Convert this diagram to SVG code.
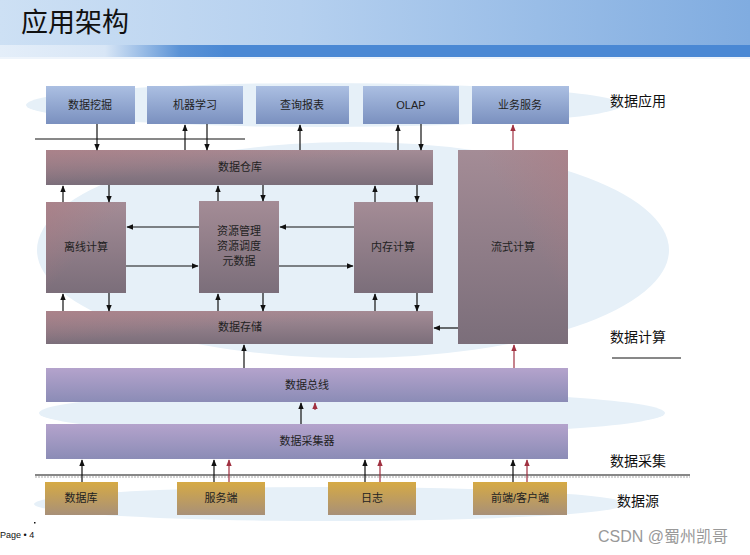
<svg xmlns="http://www.w3.org/2000/svg" width="750" height="555" viewBox="0 0 750 555">
<defs>
<linearGradient id="hdr" x1="0" y1="0" x2="1" y2="0">
<stop offset="0" stop-color="#cde0f4"/><stop offset="0.4" stop-color="#b5d0ef"/><stop offset="1" stop-color="#80ace0"/>
</linearGradient>
<linearGradient id="bar" x1="0" y1="0" x2="1" y2="0">
<stop offset="0" stop-color="#e4eef9"/><stop offset="0.14" stop-color="#d8e6f6"/><stop offset="0.24" stop-color="#5a92d6"/><stop offset="0.3" stop-color="#4a88d4"/><stop offset="1" stop-color="#4a88d4"/>
</linearGradient>
<linearGradient id="blue" x1="0" y1="0" x2="0" y2="1">
<stop offset="0" stop-color="#abbfe2"/><stop offset="1" stop-color="#7a90bf"/>
</linearGradient>
<linearGradient id="mauve" x1="0" y1="0" x2="0" y2="1">
<stop offset="0" stop-color="#a48c96"/><stop offset="1" stop-color="#7b6e7a"/>
</linearGradient>
<linearGradient id="red" x1="0" y1="0" x2="1" y2="1">
<stop offset="0" stop-color="#b07a80" stop-opacity="0.55"/><stop offset="0.5" stop-color="#b07a80" stop-opacity="0"/>
</linearGradient>
<linearGradient id="redr" x1="1" y1="0" x2="0" y2="1">
<stop offset="0" stop-color="#b07a80" stop-opacity="0.5"/><stop offset="0.4" stop-color="#b07a80" stop-opacity="0"/>
</linearGradient>
<linearGradient id="purple" x1="0" y1="0" x2="0" y2="1">
<stop offset="0" stop-color="#b4a3cc"/><stop offset="1" stop-color="#8b8cb6"/>
</linearGradient>
<linearGradient id="gold" x1="0" y1="0" x2="0" y2="1">
<stop offset="0" stop-color="#d6aa44"/><stop offset="1" stop-color="#a89078"/>
</linearGradient>
<marker id="ah" viewBox="0 0 10 10" refX="9" refY="5" markerWidth="7" markerHeight="7" orient="auto" markerUnits="userSpaceOnUse">
<path d="M0,1 L10,5 L0,9 Z" fill="#111"/>
</marker>
<marker id="ahr" viewBox="0 0 10 10" refX="9" refY="5" markerWidth="7" markerHeight="7" orient="auto" markerUnits="userSpaceOnUse">
<path d="M0,1 L10,5 L0,9 Z" fill="#a03040"/>
</marker>
<style>
.t{font-family:"Liberation Sans","Noto Sans CJK SC",sans-serif;font-size:11px;fill:#222;text-anchor:middle}
.lbl{font-family:"Liberation Sans","Noto Sans CJK SC",sans-serif;font-size:14px;fill:#111}
.k{stroke:#111;stroke-width:1.2;fill:none;marker-end:url(#ah)}
.r{stroke:#a03040;stroke-width:1.2;fill:none;marker-end:url(#ahr)}
.ell{fill:#e6f0f8}
</style>
</defs>
<rect width="750" height="555" fill="#fff"/>
<rect x="0" y="0" width="750" height="45" fill="url(#hdr)"/>
<rect x="0" y="45" width="750" height="12" fill="url(#bar)"/>
<rect x="0" y="57" width="750" height="2" fill="#eef4fb"/>
<text x="21" y="32" style="font-family:'Liberation Sans','Noto Sans CJK SC',sans-serif;font-size:27px;fill:#111">应用架构</text>

<g id="backdrop">
<ellipse class="ell" cx="324" cy="105" rx="298" ry="22"/>
<ellipse class="ell" cx="353" cy="250" rx="316" ry="108"/>
<ellipse class="ell" cx="352" cy="413" rx="313" ry="22"/>
<ellipse class="ell" cx="330" cy="504" rx="296" ry="17"/>
</g>

<g id="n-wajue"><rect x="46" y="86" width="89" height="38" fill="url(#blue)"/><text class="t" x="90" y="109">数据挖掘</text></g>
<g id="n-jiqi"><rect x="147" y="86" width="96" height="38" fill="url(#blue)"/><text class="t" x="195" y="109">机器学习</text></g>
<g id="n-chaxun"><rect x="256" y="86" width="93" height="38" fill="url(#blue)"/><text class="t" x="302" y="109">查询报表</text></g>
<g id="n-olap"><rect x="363" y="86" width="96" height="38" fill="url(#blue)"/><text class="t" x="411" y="109">OLAP</text></g>
<g id="n-yewu"><rect x="472" y="86" width="97" height="38" fill="url(#blue)"/><text class="t" x="520" y="109">业务服务</text></g>

<g id="n-cangku"><rect x="46" y="150" width="387" height="35" fill="url(#mauve)"/><rect x="46" y="150" width="387" height="35" fill="url(#red)"/><text class="t" x="240" y="171">数据仓库</text></g>
<g id="n-liushi"><rect x="458" y="150" width="110" height="194" fill="url(#mauve)"/><rect x="458" y="150" width="110" height="194" fill="url(#redr)"/><text class="t" x="513" y="251">流式计算</text></g>
<g id="n-lixian"><rect x="46" y="202" width="80" height="91" fill="url(#mauve)"/><rect x="46" y="202" width="80" height="91" fill="url(#red)"/><text class="t" x="86" y="251">离线计算</text></g>
<g id="n-ziyuan"><rect x="199" y="201" width="80" height="92" fill="url(#mauve)"/><text class="t" x="239" y="235">资源管理</text><text class="t" x="239" y="250">资源调度</text><text class="t" x="239" y="265">元数据</text></g>
<g id="n-neicun"><rect x="354" y="202" width="79" height="91" fill="url(#mauve)"/><text class="t" x="393" y="251">内存计算</text></g>
<g id="n-cunchu"><rect x="46" y="311" width="387" height="33" fill="url(#mauve)"/><rect x="46" y="311" width="387" height="33" fill="url(#red)"/><text class="t" x="240" y="331">数据存储</text></g>
<g id="n-zongxian"><rect x="46" y="368" width="522" height="34" fill="url(#purple)"/><text class="t" x="307" y="389">数据总线</text></g>
<g id="n-caiji"><rect x="46" y="424" width="522" height="35" fill="url(#purple)"/><text class="t" x="307" y="445">数据采集器</text></g>
<g id="n-db"><rect x="45" y="482" width="73" height="33" fill="url(#gold)"/><text class="t" x="81" y="502">数据库</text></g>
<g id="n-server"><rect x="177" y="482" width="88" height="33" fill="url(#gold)"/><text class="t" x="221" y="502">服务端</text></g>
<g id="n-log"><rect x="328" y="482" width="88" height="33" fill="url(#gold)"/><text class="t" x="372" y="502">日志</text></g>
<g id="n-client"><rect x="473" y="482" width="94" height="33" fill="url(#gold)"/><text class="t" x="520" y="502">前端/客户端</text></g>

<g id="labels">
<text class="lbl" x="610" y="106">数据应用</text>
<text class="lbl" x="610" y="342">数据计算</text>
<line x1="612" y1="358" x2="681" y2="358" stroke="#111" stroke-width="1"/>
<text class="lbl" x="610" y="466">数据采集</text>
<text class="lbl" x="617" y="506">数据源</text>
<text x="0" y="538" style="font-family:'Liberation Sans',sans-serif;font-size:9px;fill:#111">Page • 4</text>
<rect x="34" y="522" width="1.5" height="1.5" fill="#111"/>
<text x="598" y="542" style="font-family:'Liberation Sans','Noto Sans CJK SC',sans-serif;font-size:16px;fill:#999">CSDN @蜀州凯哥</text>
</g>

<g id="connectors">
<line x1="35" y1="139" x2="245" y2="139" stroke="#111" stroke-width="1"/>
<line x1="35" y1="475" x2="690" y2="475" stroke="#111" stroke-width="1.2"/>
<line x1="35" y1="477" x2="690" y2="477" stroke="#aaa" stroke-width="1" stroke-dasharray="2,1"/>
<path class="k" d="M97,124 V150"/>
<path class="k" d="M185,150 V125"/>
<path class="k" d="M207,124 V150"/>
<path class="k" d="M300,150 V125"/>
<path class="k" d="M398,150 V125"/>
<path class="k" d="M421,124 V150"/>
<path class="r" d="M513,150 V125"/>
<path class="k" d="M63,202 V186"/>
<path class="k" d="M109,185 V202"/>
<path class="k" d="M218,201 V186"/>
<path class="k" d="M263,185 V201"/>
<path class="k" d="M375,202 V186"/>
<path class="k" d="M417,185 V202"/>
<path class="k" d="M199,227 H127"/>
<path class="k" d="M354,227 H280"/>
<path class="k" d="M126,266 H198"/>
<path class="k" d="M279,266 H353"/>
<path class="k" d="M63,311 V294"/>
<path class="k" d="M109,293 V311"/>
<path class="k" d="M218,311 V294"/>
<path class="k" d="M263,293 V311"/>
<path class="k" d="M375,311 V294"/>
<path class="k" d="M417,293 V311"/>
<path class="k" d="M458,328 H434"/>
<path class="k" d="M244,368 V345"/>
<path class="r" d="M514,368 V345"/>
<path class="k" d="M301,424 V403"/>
<path class="r" d="M315,410 V403"/>
<path class="k" d="M82,482 V460"/>
<path class="k" d="M214,482 V460"/>
<path class="r" d="M229,482 V460"/>
<path class="k" d="M365,482 V460"/>
<path class="r" d="M380,482 V460"/>
<path class="k" d="M513,482 V460"/>
<path class="r" d="M527,482 V460"/>
</g>
</svg>
